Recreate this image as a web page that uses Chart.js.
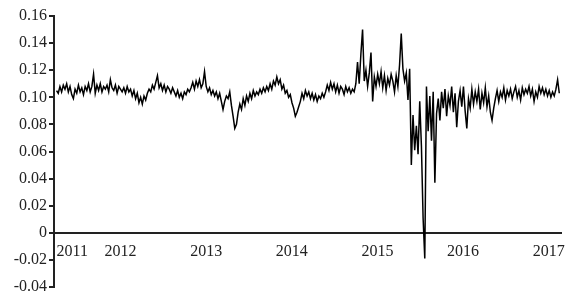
<!DOCTYPE html>
<html>
<head>
<meta charset="utf-8">
<script src="https://cdn.jsdelivr.net/npm/chart.js@4"></script>
<style>
  html, body { margin: 0; padding: 0; background: #fff; }
</style>
</head>
<body>
<canvas id="chart" width="569" height="295"></canvas>
<script>
// --- Data (series sampled evenly between startYear and endYear) ---
const startYear = 2011.44;
const endYear = 2017.31;
const rate = [
    0.105, 0.103, 0.108, 0.104, 0.109, 0.106, 0.110, 0.104, 0.108, 0.102,
    0.099, 0.106, 0.103, 0.109, 0.104, 0.107, 0.102, 0.108, 0.105, 0.110,
    0.104, 0.108, 0.117, 0.103, 0.109, 0.105, 0.110, 0.104, 0.108, 0.106,
    0.109, 0.104, 0.113, 0.107, 0.105, 0.109, 0.103, 0.108, 0.106, 0.104,
    0.107, 0.103, 0.108, 0.104, 0.106, 0.101, 0.105, 0.099, 0.103, 0.096,
    0.100, 0.095, 0.101, 0.098, 0.103, 0.106, 0.104, 0.109, 0.106, 0.111,
    0.116, 0.107, 0.110, 0.105, 0.109, 0.104, 0.108, 0.106, 0.103, 0.107,
    0.104, 0.101, 0.105, 0.100, 0.103, 0.099, 0.104, 0.102, 0.106, 0.104,
    0.107, 0.111, 0.106, 0.112, 0.108, 0.113, 0.107, 0.110, 0.119, 0.108,
    0.104, 0.107, 0.102, 0.105, 0.101, 0.104, 0.099, 0.103, 0.097, 0.091,
    0.097, 0.101, 0.099, 0.104, 0.094, 0.086, 0.077, 0.080, 0.089, 0.095,
    0.091, 0.099, 0.094, 0.101, 0.097, 0.103, 0.099, 0.105, 0.101, 0.104,
    0.102, 0.106, 0.103, 0.107, 0.104, 0.108, 0.105, 0.110, 0.106, 0.112,
    0.109, 0.115, 0.110, 0.113, 0.106, 0.109, 0.103, 0.105, 0.100, 0.102,
    0.096, 0.092, 0.086, 0.089, 0.093, 0.097, 0.103, 0.099, 0.105, 0.101,
    0.104, 0.099, 0.103, 0.098, 0.102, 0.097, 0.101, 0.099, 0.103, 0.100,
    0.104, 0.109, 0.105, 0.111, 0.106, 0.110, 0.104, 0.109, 0.103, 0.108,
    0.106, 0.102, 0.108, 0.104, 0.107, 0.103, 0.106, 0.104, 0.110, 0.126,
    0.110, 0.132, 0.150, 0.112, 0.120, 0.108, 0.118, 0.133, 0.097, 0.115,
    0.108, 0.117, 0.110, 0.119, 0.107, 0.116, 0.105, 0.114, 0.109, 0.117,
    0.112, 0.104, 0.116, 0.108, 0.124, 0.147, 0.121, 0.112, 0.118, 0.098,
    0.121, 0.050, 0.087, 0.061, 0.079, 0.058, 0.097, 0.064, 0.011, -0.019,
    0.108, 0.075, 0.101, 0.068, 0.104, 0.037, 0.088, 0.099, 0.083, 0.104,
    0.092, 0.106, 0.086, 0.101, 0.094, 0.108, 0.089, 0.103, 0.078, 0.097,
    0.105, 0.093, 0.108, 0.090, 0.077, 0.099, 0.092, 0.106, 0.095, 0.104,
    0.097, 0.106, 0.091, 0.103, 0.096, 0.107, 0.093, 0.101, 0.089, 0.083,
    0.092, 0.099, 0.105, 0.097, 0.104, 0.100, 0.107, 0.098, 0.105, 0.101,
    0.106, 0.099, 0.104, 0.108, 0.100, 0.105, 0.098, 0.107, 0.102, 0.106,
    0.103, 0.108, 0.101, 0.106, 0.097, 0.104, 0.100, 0.108, 0.103, 0.107,
    0.102, 0.106, 0.101, 0.105, 0.100, 0.104, 0.101, 0.106, 0.113, 0.103
];
const yearTicks = [2011.44, 2012, 2013, 2014, 2015, 2016, 2017];
const yearLabels = ['2011', '2012', '2013', '2014', '2015', '2016', '2017'];

// --- Build points ---
const step = (endYear - startYear) / (rate.length - 1);
const points = rate.map((v, i) => ({ x: startYear + i * step, y: v }));

const axisColor = '#222';
const labelFont = { family: 'Liberation Serif', size: 16 };

const ctx = document.getElementById('chart').getContext('2d');
const chart = new Chart(ctx, {
    type: 'line',
    data: {
        datasets: [{
            data: points,
            borderColor: '#000',
            borderWidth: 1.5,
            pointRadius: 0,
            tension: 0,
            fill: false
        }]
    },
    options: {
        responsive: false,
        animation: false,
        devicePixelRatio: 1,
        layout: { padding: { left: 0, right: 8, top: 16, bottom: 8 } },
        plugins: { legend: { display: false }, tooltip: { enabled: false } },
        scales: {
            x: {
                type: 'linear',
                min: 2011.41,
                max: 2017.33,
                position: { y: 0 },
                afterFit: (s) => {
                    s.paddingLeft = 0;
                    s.paddingRight = 0;
                },
                border: { display: true, color: axisColor, width: 2 },
                grid: { display: false, drawTicks: false },
                afterBuildTicks: (s) => { s.ticks = yearTicks.map(v => ({ value: v })); },
                ticks: {
                    align: 'start',
                    padding: 9,
                    color: axisColor,
                    font: labelFont,
                    autoSkip: false,
                    maxRotation: 0,
                    callback: (v, i) => yearLabels[i]
                }
            },
            y: {
                min: -0.04,
                max: 0.16,
                afterFit: (s) => {
                    s.width = 54;
                    s.paddingTop = 0;
                    s.paddingBottom = 0;
                },
                border: { display: true, color: axisColor, width: 2 },
                grid: { drawOnChartArea: false, drawTicks: true, tickLength: 5, color: axisColor, lineWidth: 2 },
                ticks: {
                    stepSize: 0.02,
                    padding: 2,
                    color: axisColor,
                    font: labelFont,
                    callback: (v) => Math.abs(v) < 1e-9 ? '0' : v.toFixed(2)
                }
            }
        }
    }
});
</script>
</body>
</html>
